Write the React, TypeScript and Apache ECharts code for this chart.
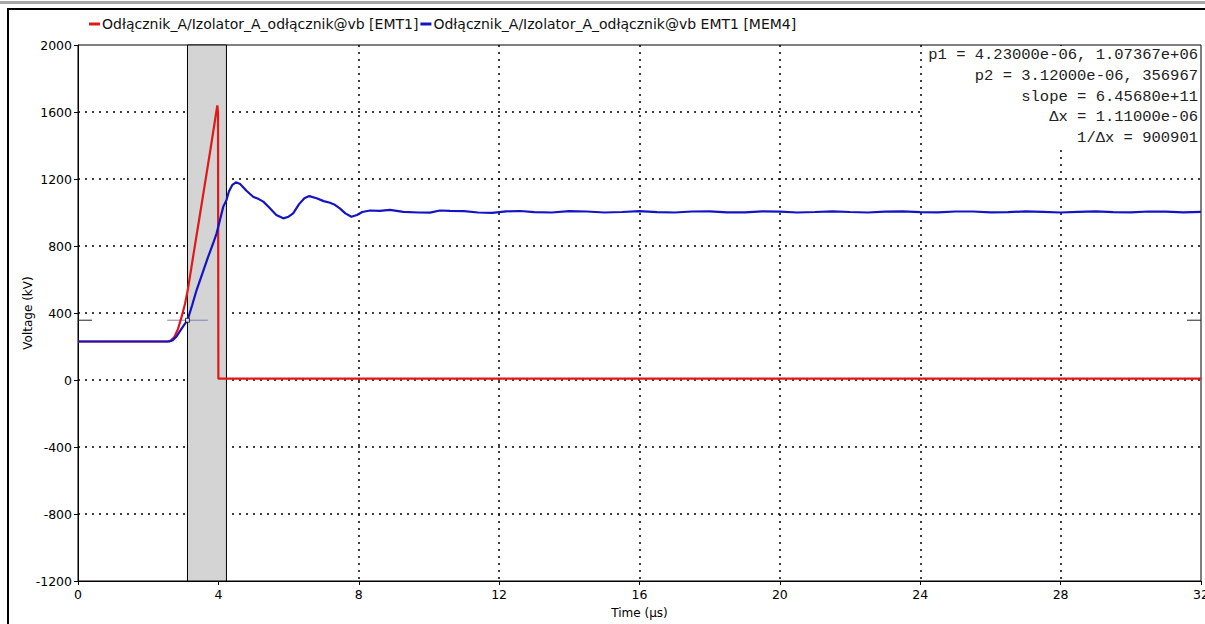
import React, { useEffect, useRef } from "react";
import * as echarts from "echarts";

const seriesNames = [
  "Odłącznik_A/Izolator_A_odłącznik@vb [EMT1]",
  "Odłącznik_A/Izolator_A_odłącznik@vb EMT1 [MEM4]",
];

// time (µs), voltage (kV)
const redData: [number, number][] = [
  [0, 230], [2.55, 230], [2.65, 236], [2.75, 258], [2.85, 305], [2.95, 375],
  [3.05, 455], [3.13, 540], [3.3, 762], [3.45, 955], [3.6, 1150], [3.75, 1345],
  [3.9, 1545], [3.97, 1640], [3.99, 1595], [4.0, 8], [32, 8],
];

const blueData: [number, number][] = [
  [0, 230], [2.6, 230], [2.7, 238], [2.8, 258], [2.9, 290], [3.0, 322],
  [3.12, 357], [3.25, 445], [3.38, 537], [3.55, 640], [3.71, 736], [3.85, 815],
  [3.95, 876], [4.05, 960], [4.14, 1035], [4.23, 1074], [4.3, 1125], [4.4, 1165],
  [4.5, 1180], [4.62, 1170], [4.8, 1130], [4.99, 1094], [5.15, 1080], [5.28, 1065],
  [5.45, 1030], [5.65, 985], [5.85, 965], [6.0, 975], [6.13, 995], [6.3, 1050],
  [6.45, 1085], [6.59, 1098], [6.8, 1085], [7.0, 1068], [7.18, 1058], [7.3, 1048],
  [7.46, 1025], [7.62, 995], [7.79, 975], [7.95, 985], [8.1, 1003], [8.32, 1012],
  [8.6, 1010], [8.89, 1016], [9.27, 1004], [9.7, 1000], [10.03, 999], [10.31, 1012],
  [10.6, 1010], [11.0, 1008], [11.4, 1000], [11.8, 998], [12.2, 1007], [12.6, 1009],
  [13.0, 1002], [13.5, 1000], [14.0, 1008], [14.5, 1006], [15.0, 1000], [15.5, 1003],
  [16.0, 1008], [16.5, 1002], [17.0, 1000], [17.5, 1006], [18.0, 1007], [18.5, 1001],
  [19.0, 1001], [19.5, 1007], [20.0, 1005], [20.5, 1000], [21.0, 1003], [21.5, 1007],
  [22.0, 1003], [22.5, 1000], [23.0, 1005], [23.5, 1007], [24.0, 1002], [24.5, 1001],
  [25.0, 1006], [25.5, 1006], [26.0, 1001], [26.5, 1002], [27.0, 1007], [27.5, 1004],
  [28.0, 1000], [28.5, 1004], [29.0, 1007], [29.5, 1002], [30.0, 1001], [30.5, 1006],
  [31.0, 1005], [31.5, 1001], [32.0, 1004],
];

// cursor positions (µs, kV)
const cursorP1: [number, number] = [4.23, 1073.67];
const cursorP2: [number, number] = [3.12, 356.967];
const crossHalfWidth = 0.58; // µs
const edgeMarkWidth = 0.4; // µs

const annotationLines = [
  "p1 = 4.23000e-06, 1.07367e+06",
  "p2 = 3.12000e-06, 356967",
  "slope = 6.45680e+11",
  "\u0394x = 1.11000e-06",
  "1/\u0394x = 900901",
];

const xMin = 0, xMax = 32, xStep = 4;
const yMin = -1200, yMax = 2000, yStep = 400;

export default function App() {
  const ref = useRef<HTMLDivElement>(null);

  useEffect(() => {
    document.body.style.margin = "0";
    if (!ref.current) return;
    const chart = echarts.init(ref.current, null, { renderer: "svg" });
    const font = "DejaVu Sans";
    const mono = "Liberation Mono";

    const annotationTexts = annotationLines.map((t, i) => ({
      type: "text",
      right: 7,
      top: 47 + i * 20.8,
      z: 101,
      style: {
        text: t,
        font: `15.5px ${mono}`,
        fill: "#222",
        textAlign: "right",
      },
    }));

    chart.setOption({
      animation: false,
      backgroundColor: "#fff",
      textStyle: { fontFamily: font },
      legend: {
        top: 12,
        left: 84,
        itemGap: 2,
        itemWidth: 11,
        itemHeight: 3,
        icon: "rect",
        selectedMode: false,
        textStyle: { fontFamily: font, fontSize: 14, color: "#111", padding: [0, 0, 0, -3] },
        data: seriesNames,
      },
      grid: {
        left: 78,
        right: 4,
        top: 45,
        bottom: 43,
        show: true,
        borderColor: "#000",
        borderWidth: 1,
        backgroundColor: "transparent",
        containLabel: false,
        outerBoundsMode: "none",
      },
      xAxis: {
        type: "value",
        min: xMin,
        max: xMax,
        interval: xStep,
        name: "Time (\u03bcs)",
        nameLocation: "middle",
        nameGap: 26,
        nameMoveOverlap: false,
        nameTextStyle: { fontFamily: font, fontSize: 12, color: "#000" },
        axisLine: { show: true, onZero: false, lineStyle: { color: "#000", width: 1 } },
        axisTick: { show: true, length: 4, lineStyle: { color: "#000" } },
        axisLabel: { fontFamily: font, fontSize: 12.5, color: "#000", margin: 7 },
        splitLine: {
          show: true,
          showMinLine: false,
          showMaxLine: false,
          lineStyle: { color: "#000", type: [2, 5], width: 1.5 },
        },
      },
      yAxis: {
        type: "value",
        min: yMin,
        max: yMax,
        interval: yStep,
        name: "Voltage (kV)",
        nameLocation: "middle",
        nameGap: 44,
        nameMoveOverlap: false,
        nameRotate: 90,
        nameTextStyle: { fontFamily: font, fontSize: 12, color: "#000" },
        axisLine: { show: true, onZero: false, lineStyle: { color: "#000", width: 1 } },
        axisTick: { show: true, length: 4, lineStyle: { color: "#000" } },
        axisLabel: {
          fontFamily: font,
          fontSize: 12.5,
          color: "#000",
          margin: 6,
          formatter: (v: number) => String(v),
        },
        splitLine: {
          show: true,
          showMinLine: false,
          showMaxLine: false,
          lineStyle: { color: "#000", type: [2, 5], width: 1.5 },
        },
      },
      series: [
        {
          name: "cursorArea",
          type: "line",
          data: [],
          z: -1,
          silent: true,
          markArea: {
            silent: true,
            itemStyle: { color: "#d4d4d4", borderColor: "#000", borderWidth: 1 },
            data: [[{ xAxis: cursorP2[0] }, { xAxis: cursorP1[0] }]],
          },
        },
        {
          name: "cross",
          type: "line",
          data: [
            [cursorP2[0] - crossHalfWidth, cursorP2[1]],
            [cursorP2[0] + crossHalfWidth, cursorP2[1]],
          ],
          symbol: "none",
          lineStyle: { color: "#8080b8", width: 1 },
          z: 1,
          silent: true,
        },
        {
          name: "edgeLeft",
          type: "line",
          data: [[xMin, cursorP2[1]], [xMin + edgeMarkWidth, cursorP2[1]]],
          symbol: "none",
          lineStyle: { color: "#222", width: 1 },
          silent: true,
        },
        {
          name: "edgeRight",
          type: "line",
          data: [[xMax - edgeMarkWidth, cursorP2[1]], [xMax, cursorP2[1]]],
          symbol: "none",
          lineStyle: { color: "#222", width: 1 },
          silent: true,
        },
        {
          name: seriesNames[0],
          type: "line",
          data: redData,
          symbol: "none",
          color: "#e01818",
          lineStyle: { color: "#e01818", width: 2.2 },
          z: 3,
        },
        {
          name: seriesNames[1],
          type: "line",
          data: blueData,
          symbol: "none",
          color: "#1414c4",
          lineStyle: { color: "#1414c4", width: 2.2 },
          z: 4,
        },
        {
          name: "p2mark",
          type: "scatter",
          data: [cursorP2],
          symbol: "rect",
          symbolSize: 4,
          itemStyle: { color: "#fff", borderColor: "#000", borderWidth: 1 },
          z: 5,
          silent: true,
        },
      ],
      graphic: [
        {
          type: "rect",
          shape: { x: 0, y: 1, width: 1205, height: 3 },
          style: { fill: "#a8a8a8" },
          z: 100,
        },
        {
          type: "line",
          shape: { x1: 7, y1: 9, x2: 1205, y2: 9 },
          style: { stroke: "#000", lineWidth: 2 },
          z: 100,
        },
        {
          type: "line",
          shape: { x1: 8, y1: 9, x2: 8, y2: 624 },
          style: { stroke: "#000", lineWidth: 2 },
          z: 100,
        },
        {
          type: "rect",
          shape: { x: 922, y: 46, width: 278, height: 102 },
          style: { fill: "#fff" },
          z: 100,
        },
        ...annotationTexts,
      ],
    });

    return () => chart.dispose();
  }, []);

  return <div ref={ref} style={{ width: 1205, height: 624 }} />;
}
